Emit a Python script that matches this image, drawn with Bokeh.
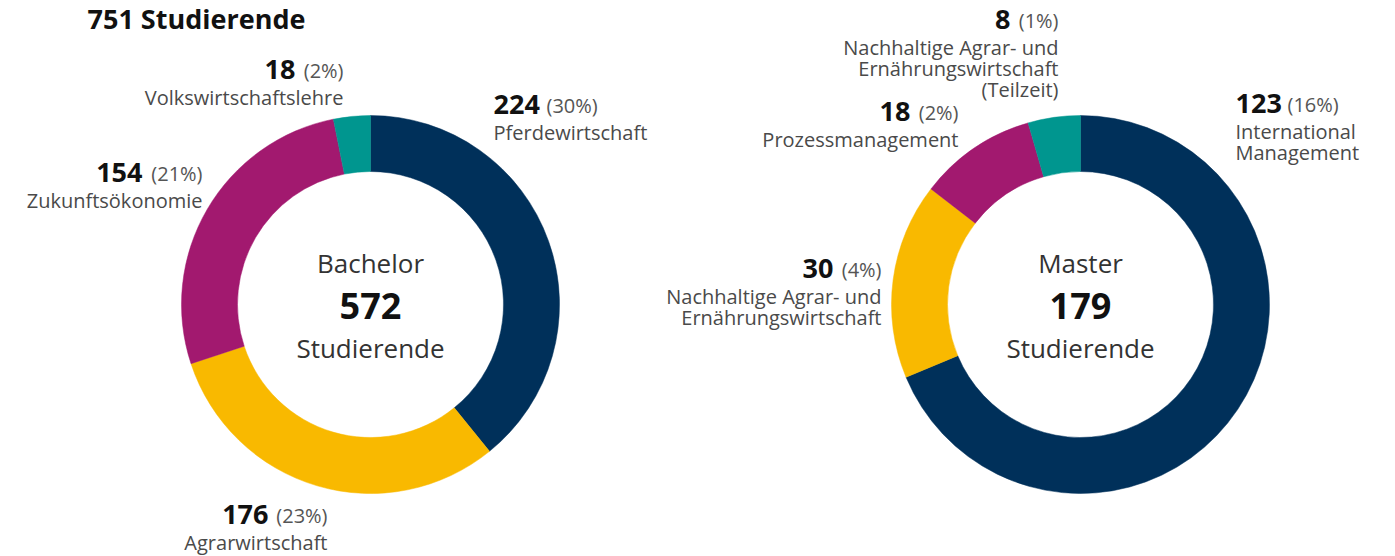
import math
from bokeh.plotting import figure
from bokeh.models import Range1d, ColumnDataSource
from bokeh.core.properties import value
from bokeh.embed import file_html
from bokeh.resources import INLINE

# ---------------- data ----------------
total_title = "751 Studierende"

bachelor_title = "Bachelor"
bachelor_total = 572
bachelor_labels = ["Pferdewirtschaft", "Agrarwirtschaft", "Zukunftsökonomie", "Volkswirtschaftslehre"]
bachelor_values = [224, 176, 154, 18]
bachelor_pcts = [30, 23, 21, 2]

master_title = "Master"
master_total = 179
master_labels = ["International\nManagement",
                 "Nachhaltige Agrar- und\nErnährungswirtschaft",
                 "Prozessmanagement",
                 "Nachhaltige Agrar- und\nErnährungswirtschaft\n(Teilzeit)"]
master_values = [123, 30, 18, 8]
master_pcts = [16, 4, 2, 1]

colors = ["#00305a", "#f9b900", "#a2196f", "#00968f"]

# ---------------- layout ----------------
W, H = 1395, 556
FONT = value("Open Sans")


def X(px):
    return px


def Y(py):
    return H - py


p = figure(width=W, height=H, output_backend="svg", toolbar_location=None,
           x_range=Range1d(0, W), y_range=Range1d(0, H), min_border=0)
p.axis.visible = False
p.grid.visible = False
p.outline_line_color = None
p.background_fill_color = "white"
p.border_fill_color = "white"

R_OUT, R_IN = 189, 133

# label anchor layout per segment: (align, edge_x, split_x, number_line_y)
bachelor_layout = [("left", 493, 546, 104), ("right", 327, 268, 514),
                   ("right", 202, 142, 172), ("right", 343, 295, 69)]
master_layout = [("left", 1235, 1287, 103), ("right", 881, 833, 268),
                 ("right", 958, 910, 111), ("right", 1058, 1010, 19)]

LABEL_COLOR = "#4a4a4a"


def donut(cx, cy, title, total, labels, vals, pcts, layout):
    tot = sum(vals)
    starts, ends = [], []
    cum = 0
    for v in vals:
        ends.append(math.pi / 2 - 2 * math.pi * cum / tot)
        cum += v
        starts.append(math.pi / 2 - 2 * math.pi * cum / tot)
    src = ColumnDataSource(dict(x=[X(cx)] * len(vals), y=[Y(cy)] * len(vals),
                                s=starts, e=ends, c=colors[:len(vals)]))
    p.annular_wedge(x="x", y="y", inner_radius=R_IN, outer_radius=R_OUT,
                    start_angle="s", end_angle="e", direction="anticlock",
                    fill_color="c", line_color="c", line_width=0.5, source=src)
    # center texts
    p.text(x=[X(cx)], y=[Y(cy - 42)], text=[title], text_font=FONT, text_font_size="26px",
           text_color="#333333", text_align="center", text_baseline="middle")
    p.text(x=[X(cx)], y=[Y(cy + 1)], text=[str(total)], text_font=FONT, text_font_size="36px",
           text_font_style="bold", text_color="#111111", text_align="center", text_baseline="middle")
    p.text(x=[X(cx)], y=[Y(cy + 43)], text=["Studierende"], text_font=FONT, text_font_size="26px",
           text_color="#333333", text_align="center", text_baseline="middle")
    # segment labels
    for lab, v, pc, (al, ex, sx, ly) in zip(labels, vals, pcts, layout):
        if al == "left":
            p.text(x=[X(ex)], y=[Y(ly)], text=[str(v)], text_font=FONT, text_font_size="27px",
                   text_font_style="bold", text_color="#111111", text_align="left", text_baseline="middle")
            p.text(x=[X(sx)], y=[Y(ly + 1)], text=[f"({pc}%)"], text_font=FONT, text_font_size="20px",
                   text_color="#555555", text_align="left", text_baseline="middle")
        else:
            p.text(x=[X(sx)], y=[Y(ly)], text=[str(v)], text_font=FONT, text_font_size="27px",
                   text_font_style="bold", text_color="#111111", text_align="right", text_baseline="middle")
            p.text(x=[X(ex)], y=[Y(ly + 1)], text=[f"({pc}%)"], text_font=FONT, text_font_size="20px",
                   text_color="#555555", text_align="right", text_baseline="middle")
        for i, line in enumerate(lab.split("\n")):
            p.text(x=[X(ex)], y=[Y(ly + 28 + 21 * i)], text=[line], text_font=FONT,
                   text_font_size="20px", text_color=LABEL_COLOR, text_align=al,
                   text_baseline="middle")


donut(370, 304, bachelor_title, bachelor_total, bachelor_labels, bachelor_values,
      bachelor_pcts, bachelor_layout)
donut(1080, 304, master_title, master_total, master_labels, master_values,
      master_pcts, master_layout)

p.text(x=[X(87)], y=[Y(18)], text=[total_title], text_font=FONT, text_font_size="27px",
       text_font_style="bold", text_color="#111111", text_align="left", text_baseline="middle")

open("out.html", "w").write(file_html(p, INLINE))
